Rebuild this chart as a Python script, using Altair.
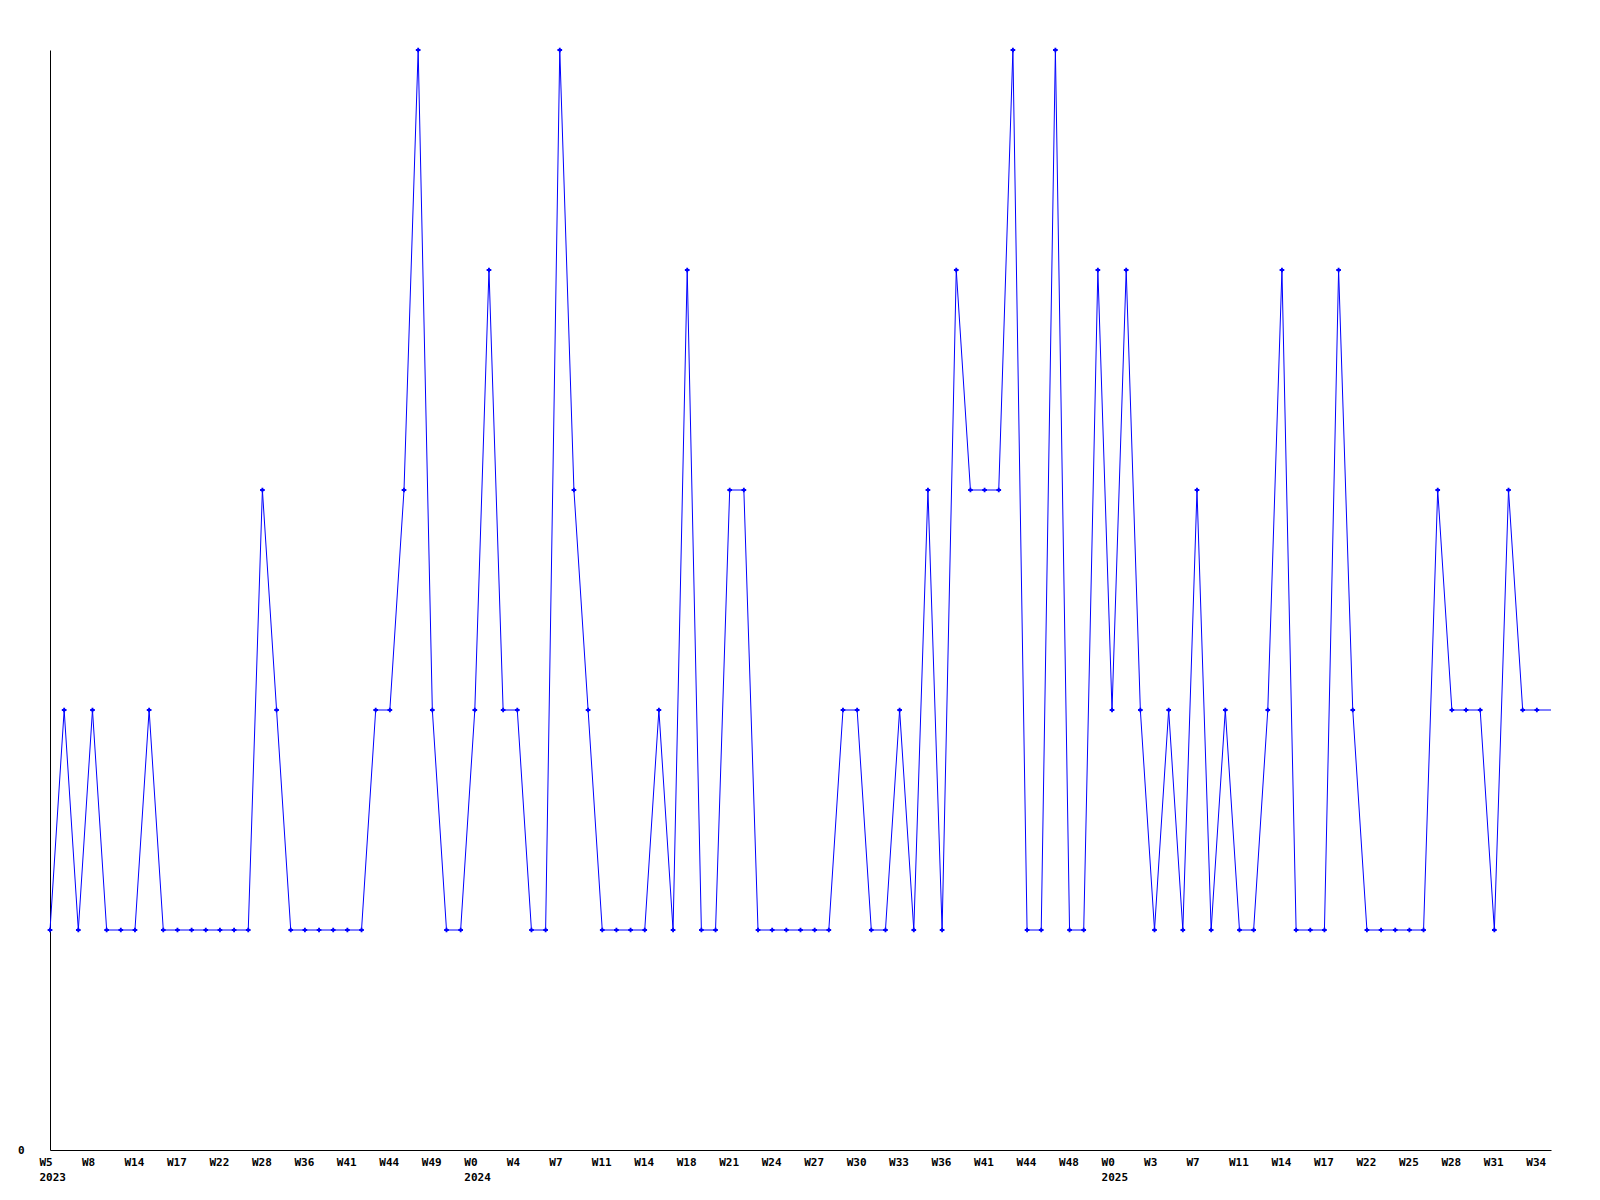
import altair as alt
import pandas as pd

# weekly counts, one per category along the x axis
values = [1, 2, 1, 2, 1, 1, 1, 2, 1, 1,
          1, 1, 1, 1, 1, 3, 2, 1, 1, 1,
          1, 1, 1, 2, 2, 3, 5, 2, 1, 1,
          2, 4, 2, 2, 1, 1, 5, 3, 2, 1,
          1, 1, 1, 2, 1, 4, 1, 1, 3, 3,
          1, 1, 1, 1, 1, 1, 2, 2, 1, 1,
          2, 1, 3, 1, 4, 3, 3, 3, 5, 1,
          1, 5, 1, 1, 4, 2, 4, 2, 1, 2,
          1, 3, 1, 2, 1, 1, 2, 4, 1, 1,
          1, 4, 2, 1, 1, 1, 1, 1, 3, 2,
          2, 2, 1, 3, 2, 2, 2]

# tick labels shown on every third category
week_labels = ["W5", "W8", "W14", "W17", "W22", "W28", "W36", "W41", "W44", "W49",
               "W0", "W4", "W7", "W11", "W14", "W18", "W21", "W24", "W27", "W30",
               "W33", "W36", "W41", "W44", "W48", "W0", "W3", "W7", "W11", "W14",
               "W17", "W22", "W25", "W28", "W31", "W34"]
year_labels = {0: "2023", 30: "2024", 75: "2025"}
label_step = 3

n = len(values)
df = pd.DataFrame({"idx": list(range(n)), "value": values,
                   "marker": [i < n - 1 for i in range(n)]})

tick_vals = [i * label_step for i in range(len(week_labels))]
entries = []
for k, w in enumerate(week_labels):
    pos = k * label_step
    if pos in year_labels:
        entries.append("['%s','%s']" % (w, year_labels[pos]))
    else:
        entries.append("'%s'" % w)
label_expr = "[" + ",".join(entries) + "][round(datum.value/%d)]" % label_step

FONT = "DejaVu Sans Mono"
BLUE = "#0000ff"

x = alt.X("idx:Q",
          scale=alt.Scale(domain=[0, n - 1], nice=False, zero=False),
          axis=alt.Axis(values=tick_vals, labelExpr=label_expr, title=None,
                        grid=False, ticks=False, tickSize=0,
                        labelAlign="left", labelOffset=-11, labelBaseline="top",
                        labelPadding=6, labelLineHeight=15,
                        labelFont=FONT, labelFontSize=11, labelFontWeight="bold",
                        labelColor="#000000", domainColor="#000000",
                        domainWidth=1, labelOverlap=False, labelFlush=False,
                        labelBound=False))
y = alt.Y("value:Q",
          scale=alt.Scale(domain=[0, 5], nice=False, zero=True),
          axis=alt.Axis(values=[0], title=None, grid=False, ticks=False,
                        tickSize=0, labelPadding=26,
                        labelFont=FONT, labelFontSize=11, labelFontWeight="bold",
                        labelColor="#000000", domainColor="#000000",
                        domainWidth=1))

line = alt.Chart(df).mark_line(color=BLUE, strokeWidth=1).encode(x=x, y=y)
pts = alt.Chart(df).transform_filter("datum.marker").mark_point(
    shape="cross", filled=True, size=22, color=BLUE, opacity=1, strokeWidth=0
).encode(x=x, y=y)

chart = (line + pts).properties(
    width=1501, height=1100,
    autosize=alt.AutoSizeParams(type="none"),
    padding={"left": 42, "top": 42, "right": 40, "bottom": 50},
    background="#ffffff",
).configure_view(stroke=None)

chart.save("out.html", embed_options={"renderer": "svg", "actions": False})
